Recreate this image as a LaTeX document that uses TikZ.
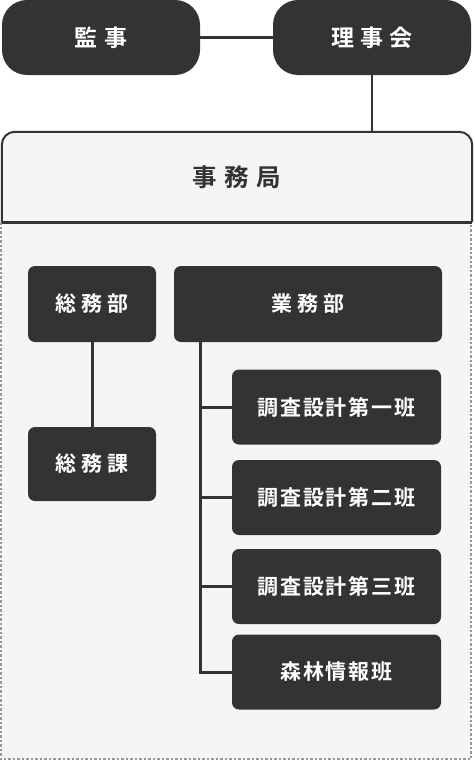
\documentclass[tikz,border=0pt]{standalone}
\usepackage{fontspec}
\newfontfamily\jpb{Noto Sans CJK JP Bold}
\definecolor{dark}{HTML}{333333}
\definecolor{pale}{HTML}{F5F5F5}
\definecolor{dashgray}{HTML}{999999}
\begin{document}
\begin{tikzpicture}[x=1pt,y=-1pt,
  topbox/.style={fill=dark,rounded corners=25pt,minimum width=198pt,minimum height=75pt,inner sep=0pt,text=white,font=\jpb\fontsize{23}{25}\selectfont\addfontfeature{LetterSpace=28}},
  deptbox/.style={fill=dark,rounded corners=7pt,minimum height=76pt,inner sep=0pt,text=white,font=\jpb\fontsize{21}{23}\selectfont\addfontfeature{LetterSpace=26}},
  hanbox/.style={fill=dark,rounded corners=7pt,minimum width=209pt,minimum height=75pt,inner sep=0pt,text=white,font=\jpb\fontsize{21}{23}\selectfont\addfontfeature{LetterSpace=8}},
  conn/.style={draw=dark,line width=3pt},
]
\useasboundingbox (0,0) rectangle (474,760);
% dashed region
\fill[pale] (1,222) rectangle (471,759);
\draw[dashgray,line width=1.5pt,dash pattern=on 2.5pt off 2pt] (1,222) -- (1,759) -- (471,759) -- (471,222);
% top
\node[topbox] (kanji) at (101,37.5) {監事};
\node[topbox] (riji) at (372,37.5) {理事会};
\draw[conn,line width=2.5pt] (kanji.east) -- (riji.west);
% office
\node[minimum width=470pt,minimum height=90pt,inner sep=0pt] (office) at (237,177) {};
\draw[dark,fill=pale,line width=2pt] (office.south west) [rounded corners=13pt] -- (office.north west) -- (office.north east) [sharp corners] -- (office.south east);
\draw[dark,line width=3pt] (office.south west) -- (office.south east);
\node[text=dark,font=\jpb\fontsize{24.5}{26}\selectfont\addfontfeature{LetterSpace=30}] (officetext) at (office.center) {事務局};
\draw[conn,line width=2.5pt] (riji.south) -- (riji.south |- office.north);
% departments
\node[deptbox,minimum width=128pt] (soumubu) at (92,304) {総務部};
\node[deptbox,minimum width=268pt] (gyomubu) at (308,304) {業務部};
\node[deptbox,minimum width=128pt,minimum height=74pt] (soumuka) at (92,464) {総務課};
\draw[conn] (soumubu.south) -- (soumuka.north);
% groups
\node[hanbox] (han1) at (336.5,407) {調査設計第一班};
\node[hanbox] (han2) at (336.5,497.5) {調査設計第二班};
\node[hanbox] (han3) at (336.5,586.5) {調査設計第三班};
\node[hanbox] (shinrin) at (336.5,672) {森林情報班};
\coordinate (trunk) at (200,342);
\draw[conn] (trunk) |- (shinrin.west);
\draw[conn] (trunk |- han1.west) -- (han1.west);
\draw[conn] (trunk |- han2.west) -- (han2.west);
\draw[conn] (trunk |- han3.west) -- (han3.west);
\end{tikzpicture}
\end{document}
